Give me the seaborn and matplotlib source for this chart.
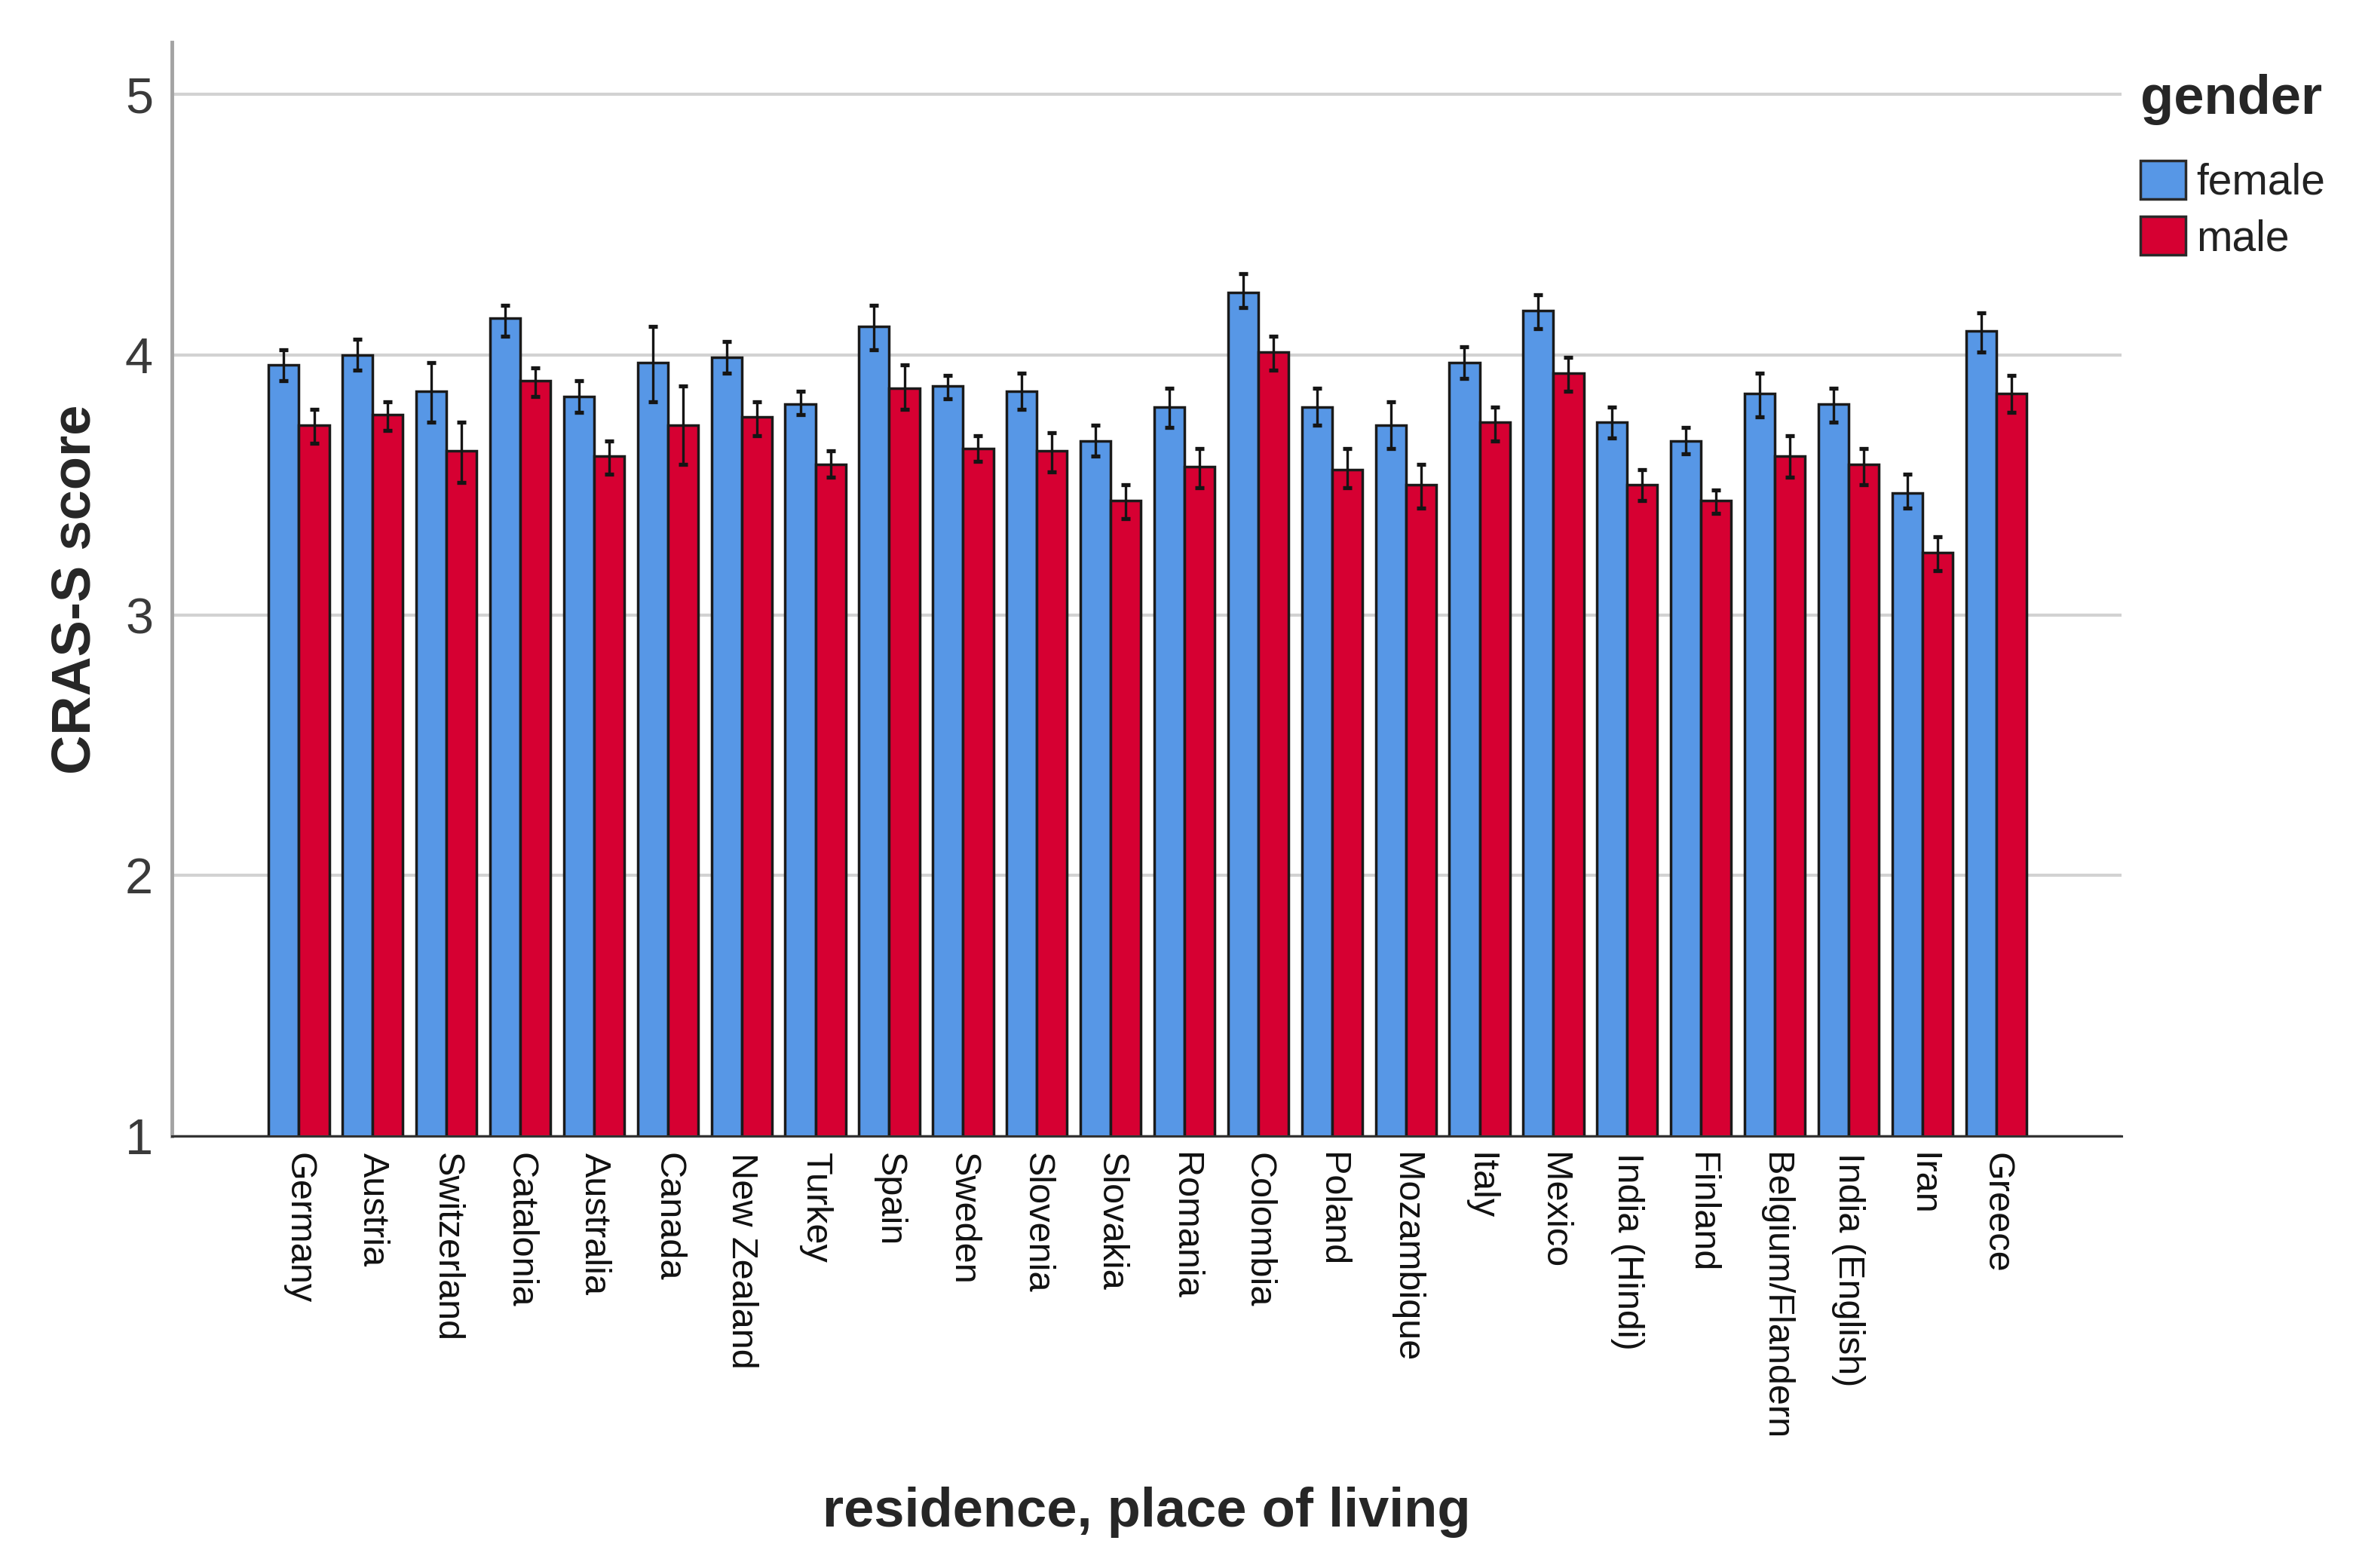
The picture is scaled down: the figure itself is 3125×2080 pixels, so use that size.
"""
CRAS-S score by residence and gender (means with 95% CI), bar chart.

output: out.png
"""

import numpy as np
import pandas as pd
import matplotlib
matplotlib.use('Agg')
import matplotlib.pyplot as plt
import seaborn as sns
from matplotlib.patches import Patch


# data
countries = ['Germany', 'Austria', 'Switzerland', 'Catalonia', 'Australia', 'Canada',
             'New Zealand', 'Turkey', 'Spain', 'Sweden', 'Slovenia', 'Slovakia',
             'Romania', 'Colombia', 'Poland', 'Mozambique', 'Italy', 'Mexico',
             'India (Hindi)', 'Finland', 'Belgium/Flandern', 'India (English)', 'Iran', 'Greece']
genders = ['female', 'male']

female_mean = [3.96, 4.00, 3.86, 4.14, 3.84, 3.97, 3.99, 3.81, 4.11, 3.88, 3.86, 3.67,
               3.80, 4.24, 3.80, 3.73, 3.97, 4.17, 3.74, 3.67, 3.85, 3.81, 3.47, 4.09]
female_lo = [3.90, 3.94, 3.74, 4.07, 3.78, 3.82, 3.93, 3.77, 4.02, 3.83, 3.79, 3.61,
             3.72, 4.18, 3.73, 3.64, 3.91, 4.10, 3.68, 3.62, 3.76, 3.74, 3.41, 4.01]
female_hi = [4.02, 4.06, 3.97, 4.19, 3.90, 4.11, 4.05, 3.86, 4.19, 3.92, 3.93, 3.73,
             3.87, 4.31, 3.87, 3.82, 4.03, 4.23, 3.80, 3.72, 3.93, 3.87, 3.54, 4.16]

male_mean = [3.73, 3.77, 3.63, 3.90, 3.61, 3.73, 3.76, 3.58, 3.87, 3.64, 3.63, 3.44,
             3.57, 4.01, 3.56, 3.50, 3.74, 3.93, 3.50, 3.44, 3.61, 3.58, 3.24, 3.85]
male_lo = [3.66, 3.71, 3.51, 3.84, 3.54, 3.58, 3.69, 3.53, 3.79, 3.59, 3.55, 3.37,
           3.49, 3.94, 3.49, 3.41, 3.67, 3.86, 3.44, 3.39, 3.53, 3.50, 3.17, 3.78]
male_hi = [3.79, 3.82, 3.74, 3.95, 3.67, 3.88, 3.82, 3.63, 3.96, 3.69, 3.70, 3.50,
           3.64, 4.07, 3.64, 3.58, 3.80, 3.99, 3.56, 3.48, 3.69, 3.64, 3.30, 3.92]

y_ticks = [1, 2, 3, 4, 5]

df = pd.DataFrame({
    'country': countries * 2,
    'gender': ['female'] * len(countries) + ['male'] * len(countries),
    'score': female_mean + male_mean,
    'lo': female_lo + male_lo,
    'hi': female_hi + male_hi,
})

#
# plotting
COLORS = {'female': '#5797e6', 'male': '#d60032'}
EDGE = '#1a1a1a'

sns.set_theme(style='white')
plt.rcParams['font.family'] = ['Liberation Sans', 'DejaVu Sans']

fig = plt.figure(figsize=(31.25, 20.8), dpi=100)
ax = fig.add_axes([0.073, 0.2755, 0.8275, 0.6976])

ax.yaxis.grid(True, color='#d2d2d2', linewidth=3.0, zorder=0)
ax.set_axisbelow(True)

sns.barplot(df, x='country', y='score', hue='gender', order=countries, hue_order=genders,
            palette=COLORS, width=0.82, gap=0, errorbar=None, edgecolor=EDGE,
            linewidth=2.5, saturation=1, legend=False, ax=ax, zorder=2)

# confidence intervals, drawn at the centre of each bar
for cont, g in zip(ax.containers, genders):
    sub = df[df.gender == g].set_index('country').loc[countries]
    xs = [p.get_x() + p.get_width() / 2 for p in cont.patches]
    ax.errorbar(xs, sub.score, yerr=[sub.score - sub.lo, sub.hi - sub.score],
                fmt='none', ecolor='#151515', elinewidth=2.4, capsize=4.5, capthick=3.8,
                zorder=3)

ax.set_xlim(-1.72, 24.70)
ax.set_ylim(1, 5.2)
ax.set_yticks(y_ticks)

sns.despine(ax=ax)
ax.spines['left'].set_color('#a3a3a3')
ax.spines['left'].set_linewidth(3.5)
ax.spines['bottom'].set_color('#333333')
ax.spines['bottom'].set_linewidth(2.2)

ax.tick_params(axis='y', length=0, pad=18, labelsize=48, labelcolor='#3a3a3a')
ax.tick_params(axis='x', length=0, pad=16, labelsize=35, labelcolor='#111111')
plt.setp(ax.get_xticklabels(), rotation=270, ha='center', va='top')

ax.set_ylabel('CRAS-S score', fontsize=52, fontweight='bold', va='center')
ax.yaxis.set_label_coords(-0.0495, 0.5)
ax.set_xlabel('residence, place of living', fontsize=52, fontweight='bold', va='center')
ax.xaxis.set_label_coords(0.5, -0.344)

handles = [Patch(facecolor=COLORS[g], edgecolor='#2a2a2a', linewidth=2.5) for g in genders]
leg = ax.legend(handles, genders, title='gender', loc='upper left', frameon=False,
                bbox_to_anchor=(0.9085, 0.953), bbox_transform=fig.transFigure,
                fontsize=41, title_fontproperties={'weight': 'bold', 'size': 52},
                handlelength=1.05, handleheight=1.0, handletextpad=0.25,
                labelspacing=0.3, borderaxespad=0, borderpad=0)
leg._legend_box.align = 'left'
leg._legend_box.sep = 34
for t in leg.get_texts():
    t.set_color('#222222')

fig.savefig('out.png', dpi=100)
